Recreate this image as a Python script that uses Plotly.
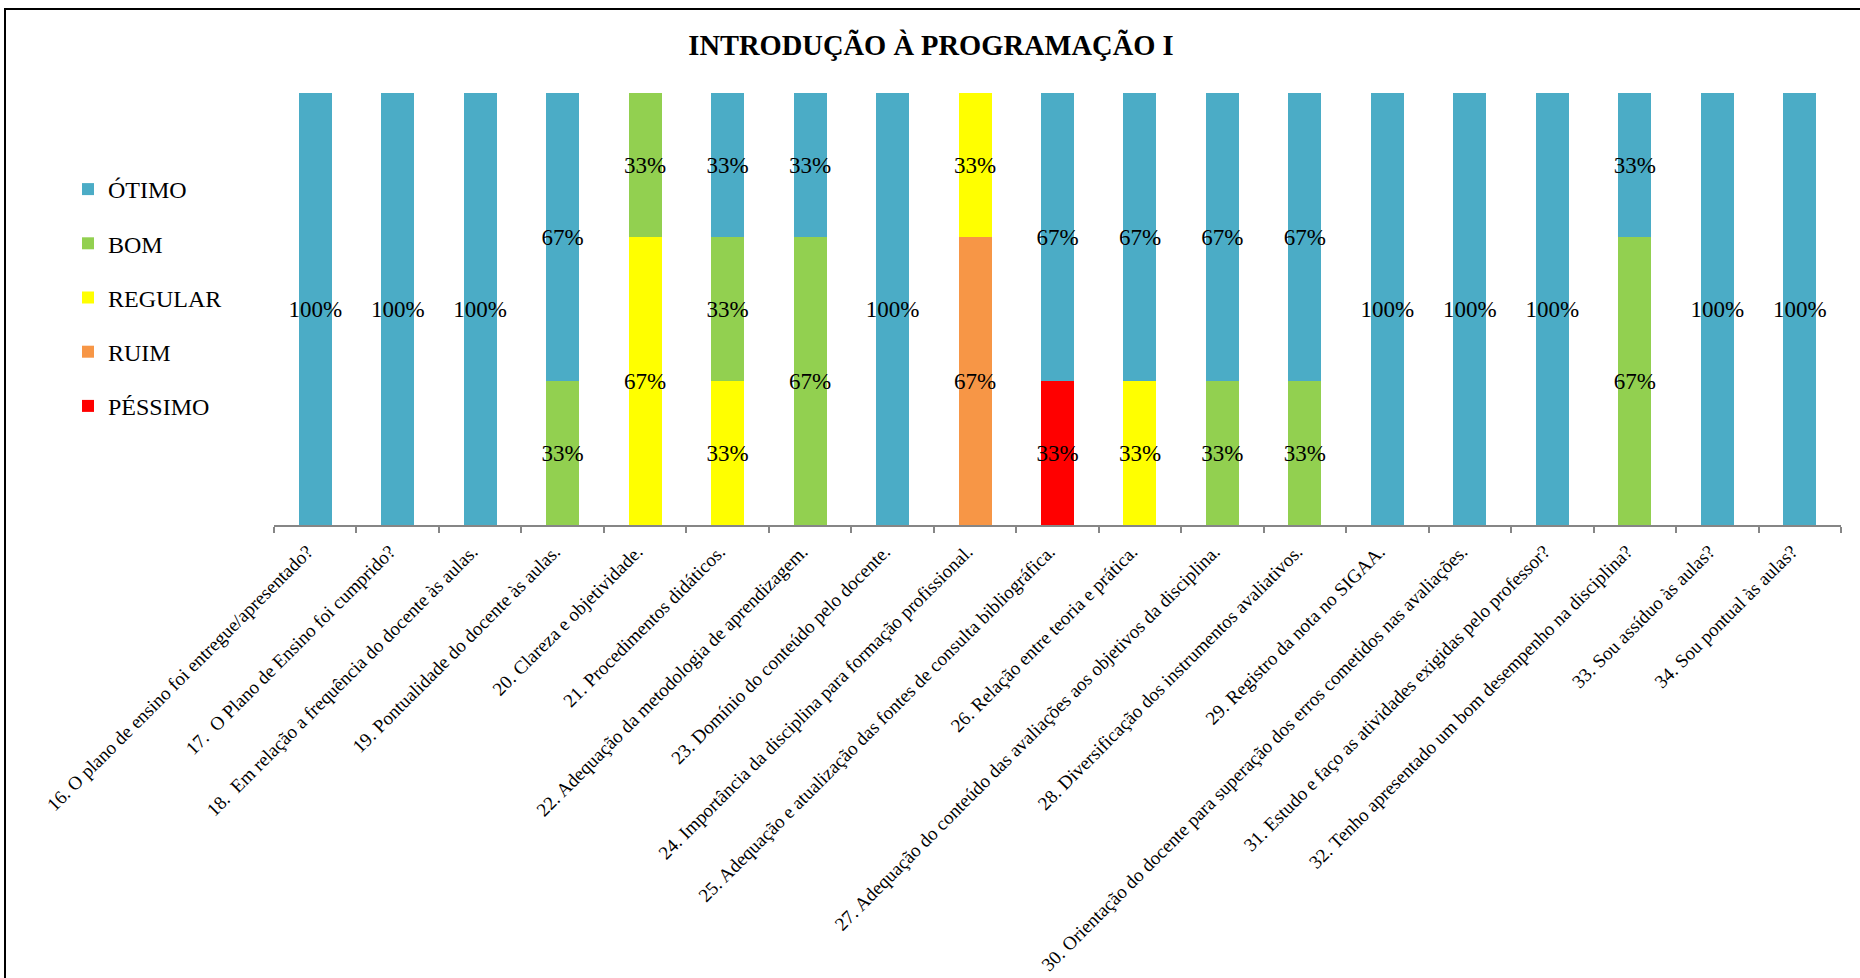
import plotly.graph_objects as go

# Survey items (x-axis categories)
questions = [
    "16. O plano de ensino foi entregue/apresentado?",
    "17.  O Plano de Ensino foi cumprido?",
    "18.  Em relação a frequência do docente às aulas.",
    "19. Pontualidade do docente às aulas.",
    "20. Clareza e objetividade.",
    "21. Procedimentos didáticos.",
    "22. Adequação da metodologia de aprendizagem.",
    "23. Domínio do conteúdo pelo docente.",
    "24. Importância da disciplina para formação profissional.",
    "25. Adequação e atualização das fontes de consulta bibliográfica.",
    "26. Relação entre teoria e prática.",
    "27. Adequação do conteúdo das avaliações aos objetivos da disciplina.",
    "28. Diversificação dos instrumentos avaliativos.",
    "29. Registro da nota no SIGAA.",
    "30. Orientação do docente para superação dos erros cometidos nas avaliações.",
    "31. Estudo e faço as atividades exigidas pelo professor?",
    "32. Tenho apresentado um bom desempenho na disciplina?",
    "33. Sou assíduo às aulas?",
    "34. Sou pontual às aulas?",
]

T = 1 / 3
D = 2 / 3

# Share of answers per rating (fractions of respondents)
pessimo = [0, 0, 0, 0, 0, 0, 0, 0, 0, T, 0, 0, 0, 0, 0, 0, 0, 0, 0]
ruim    = [0, 0, 0, 0, 0, 0, 0, 0, D, 0, 0, 0, 0, 0, 0, 0, 0, 0, 0]
regular = [0, 0, 0, 0, D, T, 0, 0, T, 0, T, 0, 0, 0, 0, 0, 0, 0, 0]
bom     = [0, 0, 0, T, T, T, D, 0, 0, 0, 0, T, T, 0, 0, 0, D, 0, 0]
otimo   = [1, 1, 1, D, 0, T, T, 1, 0, D, D, D, D, 1, 1, 1, T, 1, 1]

# stacked bottom-to-top; legend rank puts ÓTIMO on top of the key
series = [
    ("PÉSSIMO", pessimo, "#FF0000", 5),
    ("RUIM", ruim, "#F79646", 4),
    ("REGULAR", regular, "#FFFF00", 3),
    ("BOM", bom, "#92D050", 2),
    ("ÓTIMO", otimo, "#4BACC6", 1),
]

SERIF = "Liberation Serif, Times New Roman, serif"

fig = go.Figure()
for name, vals, color, rank in series:
    ys = [v if v > 0 else None for v in vals]
    fig.add_trace(go.Bar(
        name=name,
        x=questions,
        y=ys,
        marker=dict(color=color, line=dict(width=0)),
        texttemplate="%{y:.0%}",
        textposition="inside",
        insidetextanchor="middle",
        textangle=0,
        constraintext="none",
        textfont=dict(family=SERIF, size=23, color="black"),
        legendgroup=name,
        legendrank=rank,
        hoverinfo="skip",
    ))

fig.update_layout(
    width=1860,
    height=978,
    autosize=False,
    barmode="stack",
    bargap=0.6,
    plot_bgcolor="white",
    paper_bgcolor="white",
    margin=dict(l=274, r=19, t=93, b=453),
    title=dict(
        text="<b>INTRODUÇÃO À PROGRAMAÇÃO I</b>",
        font=dict(family=SERIF, size=28.5, color="black"),
        x=931 / 1860, xref="container", xanchor="center",
        y=1 - 45 / 978, yref="container", yanchor="middle",
    ),
    legend=dict(
        xref="container", yref="container",
        x=68 / 1860, xanchor="left",
        y=1 - 167 / 978, yanchor="top",
        traceorder="grouped",
        tracegroupgap=20,
        font=dict(family=SERIF, size=24, color="black"),
        bgcolor="rgba(0,0,0,0)",
    ),
    xaxis=dict(
        type="category",
        tickangle=-45,
        tickson="boundaries",
        ticks="outside",
        ticklen=6,
        tickcolor="#868686",
        tickwidth=2,
        ticklabelshift=-8,
        ticklabelstandoff=6,
        showline=True,
        linecolor="#868686",
        linewidth=2,
        showgrid=False,
        automargin=False,
        tickfont=dict(family=SERIF, size=19, color="black"),
    ),
    yaxis=dict(
        range=[0, 1],
        visible=False,
        showgrid=False,
        zeroline=False,
        automargin=False,
    ),
    shapes=[
        dict(
            type="rect", xref="paper", yref="paper",
            x0=(5 - 274) / 1567, x1=1.2,
            y0=-1.5, y1=(525 - 9) / 432,
            line=dict(color="black", width=2),
            fillcolor="rgba(0,0,0,0)",
            layer="below",
        )
    ],
)

fig.write_html("out.html")
